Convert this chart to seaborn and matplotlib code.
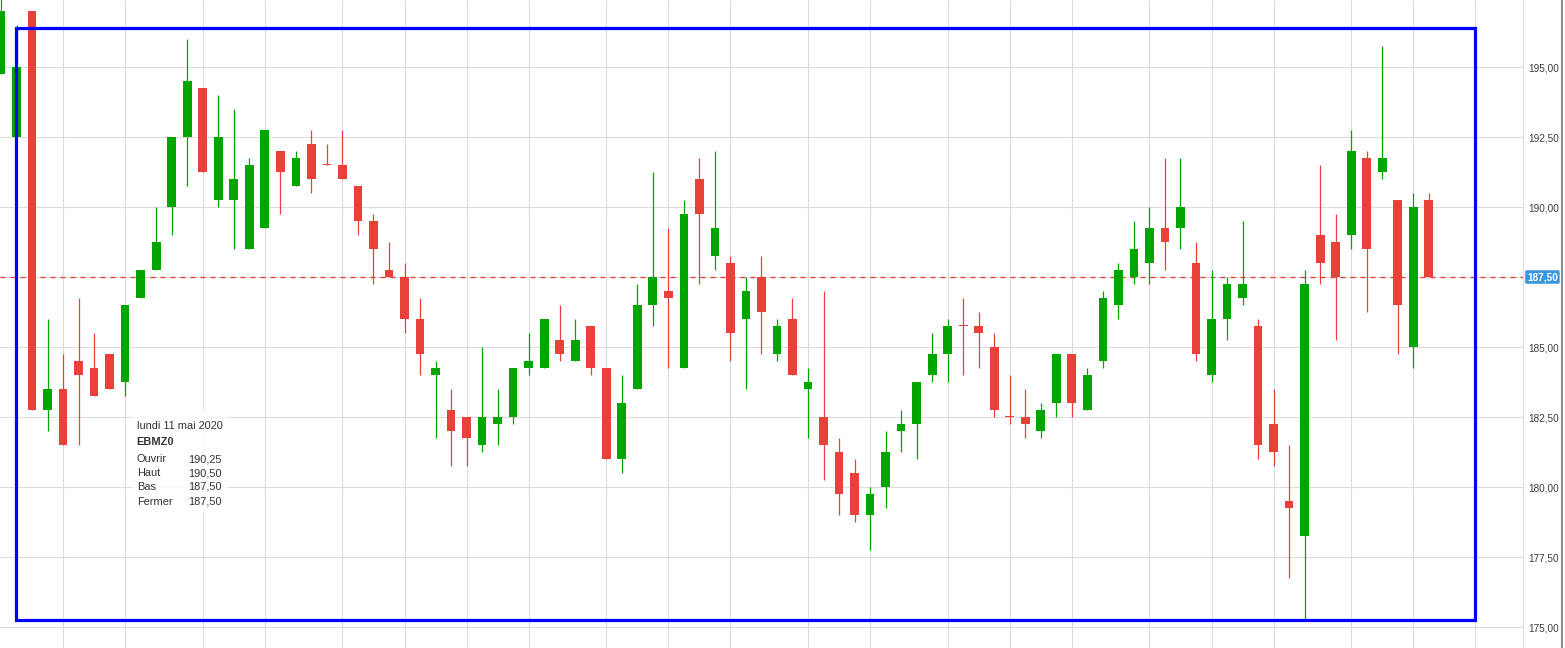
import numpy as np
import pandas as pd
import matplotlib
matplotlib.use("Agg")
import matplotlib.pyplot as plt
import matplotlib.transforms as mtransforms
from matplotlib.patches import Rectangle
from matplotlib.lines import Line2D
import seaborn as sns

# ---------------- data ----------------
opens = [194.75, 192.5, 197.0, 182.75, 183.5, 184.5, 184.25, 184.75, 183.75, 186.75,
         187.75, 190.0, 192.5, 194.25, 190.25, 190.25, 188.5, 189.25, 192.0, 190.75,
         192.25, 191.5, 191.5, 190.75, 189.5, 187.75, 187.5, 186.0, 184.0, 182.75,
         182.5, 181.5, 182.25, 182.5, 184.25, 184.25, 185.25, 184.5, 185.75, 184.25,
         181.0, 183.5, 186.5, 187.0, 184.25, 191.0, 188.25, 188.0, 186.0, 187.5,
         184.75, 186.0, 183.5, 182.5, 181.25, 180.5, 179.0, 180.0, 182.0, 182.25,
         184.0, 184.75, 185.75, 185.75, 185.0, 182.5, 182.5, 182.0, 183.0, 184.75,
         182.75, 184.5, 186.5, 187.5, 188.0, 189.25, 189.25, 188.0, 184.0, 186.0,
         186.75, 185.75, 182.25, 179.5, 178.25, 189.0, 188.75, 189.0, 191.75, 191.25,
         190.25, 185.0, 190.25]
highs = [197.75, 196.5, 197.0, 186.0, 184.75, 186.75, 185.5, 184.75, 186.5, 187.75,
         190.0, 192.5, 196.0, 194.25, 194.0, 193.5, 191.75, 192.75, 192.0, 192.0,
         192.75, 192.25, 192.75, 190.75, 189.75, 188.75, 188.0, 186.75, 184.5, 183.5,
         182.5, 185.0, 183.5, 184.25, 185.5, 186.0, 186.5, 186.0, 185.75, 184.25,
         184.0, 187.25, 191.25, 189.25, 190.25, 191.75, 192.0, 188.25, 187.5, 188.25,
         186.0, 186.75, 184.25, 187.0, 181.75, 181.0, 180.0, 182.0, 182.75, 183.75,
         185.5, 186.0, 186.75, 186.25, 185.5, 184.0, 183.5, 183.0, 184.75, 184.75,
         184.25, 187.0, 188.0, 189.5, 190.0, 191.75, 191.75, 188.75, 187.75, 187.5,
         189.5, 186.0, 183.5, 181.5, 187.75, 191.5, 189.75, 192.75, 192.0, 195.75,
         190.25, 190.5, 190.5]
lows = [194.75, 192.5, 182.75, 182.0, 181.5, 181.5, 183.25, 183.5, 183.25, 186.75,
        187.75, 189.0, 190.75, 191.25, 190.0, 188.5, 188.5, 189.25, 189.75, 190.75,
        190.5, 191.5, 191.0, 189.0, 187.25, 187.5, 185.5, 184.0, 181.75, 180.75,
        180.75, 181.25, 181.5, 182.25, 184.0, 184.25, 184.5, 184.5, 184.0, 181.0,
        180.5, 183.5, 185.75, 184.25, 184.25, 187.25, 187.75, 184.5, 183.5, 184.75,
        184.5, 184.0, 181.75, 180.25, 179.0, 178.75, 177.75, 179.25, 181.25, 181.0,
        183.75, 183.75, 184.0, 184.25, 182.5, 182.25, 181.75, 181.75, 182.5, 182.5,
        182.75, 184.25, 186.0, 187.25, 187.25, 187.75, 188.5, 184.5, 183.75, 185.25,
        186.5, 181.0, 180.75, 176.75, 175.25, 187.25, 185.25, 188.5, 186.25, 191.0,
        184.75, 184.25, 187.5]
closes = [197.0, 195.0, 182.75, 183.5, 181.5, 184.0, 183.25, 183.5, 186.5, 187.75,
          188.75, 192.5, 194.5, 191.25, 192.5, 191.0, 191.5, 192.75, 191.25, 191.75,
          191.0, 191.5, 191.0, 189.5, 188.5, 187.5, 186.0, 184.75, 184.25, 182.0,
          181.75, 182.5, 182.5, 184.25, 184.5, 186.0, 184.75, 185.25, 184.25, 181.0,
          183.0, 186.5, 187.5, 186.75, 189.75, 189.75, 189.25, 185.5, 187.0, 186.25,
          185.75, 184.0, 183.75, 181.5, 179.75, 179.0, 179.75, 181.25, 182.25, 183.75,
          184.75, 185.75, 185.75, 185.5, 182.75, 182.5, 182.25, 182.75, 184.75, 183.0,
          184.0, 186.75, 187.75, 188.5, 189.25, 188.75, 190.0, 184.75, 186.0, 187.25,
          187.25, 181.5, 181.25, 179.25, 187.25, 188.0, 187.5, 192.0, 188.5, 191.75,
          186.5, 190.0, 187.5]
week_starts = [4, 8, 13, 17, 22, 26, 30, 34, 39, 43, 47, 52, 56, 61, 65, 69,
               74, 78, 82, 87, 91, 95]
y_ticks = [175.0, 177.5, 180.0, 182.5, 185.0, 187.5, 190.0, 192.5, 195.0, 197.5]
last_price = 187.50
info_date = "lundi 11 mai 2020"
info_symbol = "EBMZ0"
info_labels = ["Ouvrir", "Haut", "Bas", "Fermer"]
info_values = [190.25, 190.50, 187.50, 187.50]
# highlight frame drawn over the chart (index / price bounds)
frame_x = (0.99, 95.0)
frame_y = (175.26, 196.40)

# ---------------- style ----------------
sns.set_theme(style="white")
plt.rcParams['font.family'] = ['Liberation Sans', 'DejaVu Sans']

GREEN = '#00a500'
RED = '#e8413a'
GRID = '#dcdcdc'


def fr(v):
    return f"{v:.2f}".replace('.', ',')


df = pd.DataFrame({'open': opens, 'high': highs, 'low': lows, 'close': closes})
df['idx'] = np.arange(len(df))
df['up'] = df['close'] > df['open']
colors = np.where(df['up'], GREEN, RED)

W, H = 1565, 648
fig = plt.figure(figsize=(W / 100, H / 100), dpi=100)
fig.patch.set_facecolor('white')
ax = fig.add_axes([0, 0, 1523 / W, 1])
ax.set_facecolor('white')

# grid
ax.set_xticks(week_starts)
ax.set_yticks(y_ticks)
ax.grid(True, color=GRID, lw=0.8)
ax.set_axisbelow(True)

# last price dashed line
ax.axhline(last_price, color='#e2463f', lw=1.0, dashes=(3.6, 3.6), zorder=1.5)

# wicks
ax.vlines(df['idx'], df['low'], df['high'], colors=colors, lw=0.9, zorder=2)
# bodies
body_bottom = np.minimum(df['open'], df['close'])
body_h = np.maximum((df['close'] - df['open']).abs(), 0.045)
ax.bar(df['idx'], body_h, bottom=body_bottom, width=0.56, color=colors,
       linewidth=0, zorder=3)

ax.set_xlim(-0.064, 98.07)
ax.set_ylim(174.25, 197.393)

# axes styling
for s in ['left', 'top', 'bottom']:
    ax.spines[s].set_visible(False)
ax.spines['right'].set_color(GRID)
ax.spines['right'].set_linewidth(0.8)
ax.yaxis.tick_right()
ax.set_yticklabels(['' if v == last_price else fr(v) for v in y_ticks])
ax.tick_params(axis='y', length=0, pad=4, labelsize=7.2, labelcolor='#3c3c3c')
ax.tick_params(axis='x', length=0, labelbottom=False)

# last price label
trans = mtransforms.blended_transform_factory(ax.transAxes, ax.transData)
ax.text(1.0 + 4 / 1523, last_price, fr(last_price), transform=trans,
        ha='left', va='center', color='white', fontsize=7.2, fontweight='bold',
        bbox=dict(boxstyle='round,pad=0.18,rounding_size=0.15', fc='#3b97dd', ec='none'),
        clip_on=False, zorder=10)

# info box
aw = 1523.0
ax.add_patch(Rectangle((132 / aw, 1 - 512 / H), 96 / aw, 102 / H, transform=ax.transAxes,
                       fc='white', ec='none', alpha=0.85, zorder=6))
txt_kw = dict(transform=ax.transAxes, fontsize=7.9, color='#333333', va='center', zorder=7)
ax.text(136.7 / aw, 1 - 425.7 / H, info_date, ha='left', **txt_kw)
ax.text(136.7 / aw, 1 - 442.3 / H, info_symbol, ha='left', fontweight='bold', **txt_kw)
row_y = [459.0, 473.3, 486.7, 501.7]
for lab, val, yy in zip(info_labels, info_values, row_y):
    ax.text(136.7 / aw, 1 - yy / H, lab, ha='left', **txt_kw)
    ax.text(221.7 / aw, 1 - yy / H, fr(val), ha='right', **txt_kw)

# blue highlight frame
ax.add_patch(Rectangle((frame_x[0], frame_y[0]), frame_x[1] - frame_x[0],
                       frame_y[1] - frame_y[0], fill=False, ec='#0000ff', lw=2.3,
                       joinstyle='miter', zorder=8))

# right border of the widget
fig.add_artist(Line2D([1561.8 / W] * 2, [0, 1], transform=fig.transFigure,
                      color='#8c8c8c', lw=1.5))

fig.savefig('out.png', dpi=100, facecolor='white')
